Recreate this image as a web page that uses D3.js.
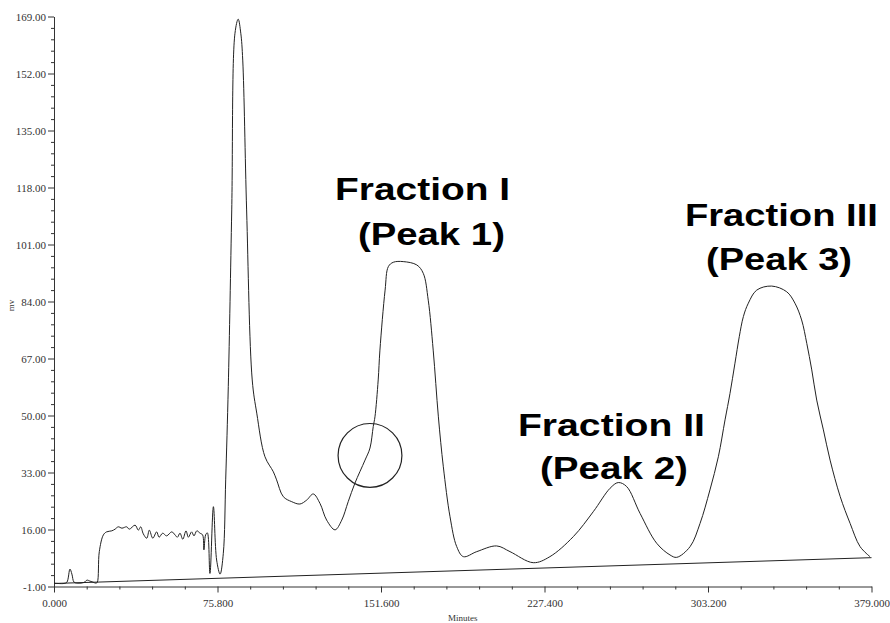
<!DOCTYPE html>
<html>
<head>
<meta charset="utf-8">
<script src="https://cdn.jsdelivr.net/npm/d3@7"></script>
<style>
  html, body { margin: 0; padding: 0; background: #fff; }
  svg { display: block; }
</style>
</head>
<body>
<svg id="chart" width="890" height="623"></svg>
<script>
// ---- Data ----
const timeMinutes = [0,4.6,6.0,7.4,8.3,9.3,11.1,13.9,15.3,16.7,18.1,19.5,20.1,21.0,22.9,24.4,26.8,28.3,29.8,31.5,33.7,34.9,37.6,39.1,40.2,41.4,43.0,44.2,45.8,47.6,48.7,50.4,52.2,54.6,56.1,57.2,58.4,59.7,61.2,62.3,63.8,64.9,66.2,67.7,68.9,69.5,70.3,71.1,72.3,73.9,75.4,77.0,78.5,79.6,80.8,82.4,83.9,85.4,86.6,87.5,89.3,91.9,94.0,97.8,101.7,103.2,106.3,110.2,114.0,117.2,120.2,123.3,126.4,130.3,133.4,136.4,139.5,144.2,146.5,148.0,148.8,150.3,151.1,153.5,155.0,157.3,161.9,168.2,171.2,173.5,175.8,178.2,180.5,183.6,186.7,189.8,196.0,205.2,211.4,222.2,229.9,240.8,250.0,257.8,261.6,265.5,271.7,279.4,285.6,288.7,294.9,299.5,304.1,308.0,311.1,313.4,315.7,317.7,319.6,321.9,325.8,332.7,339.7,343.5,346.6,349.0,351.3,353.6,356.7,359.8,364.5,369.1,373.7,378.3];
const signalMv = [0.0,-0.1,0.3,4.2,2.7,0.3,0.0,0.2,0.9,0.6,0.3,0.0,0.3,9.4,14.4,15.3,15.6,16.1,16.8,16.4,16.8,16.1,17.3,15.8,16.8,14.7,13.4,15.8,13.4,15.3,13.7,14.9,14.1,15.3,14.4,13.7,14.9,13.1,15.6,13.7,15.3,14.1,15.6,14.9,14.4,9.9,14.4,15.0,2.9,22.8,6.9,2.7,8.9,30.8,58.6,111.3,164.0,168.2,164.0,156.0,111.3,60.6,50.7,37.7,33.2,30.8,25.8,24.3,23.6,24.8,26.6,23.8,18.8,15.9,18.8,24.3,29.8,36.7,40.3,46.7,49.6,60.6,69.5,87.4,94.4,95.7,95.9,94.9,92.4,84.4,69.5,49.6,34.7,19.8,10.9,7.9,9.4,11.1,9.4,6.1,7.9,13.9,21.3,28.3,30.0,28.8,20.8,11.9,8.4,7.7,10.9,17.8,27.8,37.7,48.7,56.6,65.6,73.5,79.5,83.5,87.4,88.6,86.9,83.5,78.5,71.5,63.6,54.6,45.7,36.7,25.8,17.8,10.9,7.9];
const baselineTime = [0, 379];
const baselineMv = [-0.1, 7.6];
const yTickValues = [-1, 16, 33, 50, 67, 84, 101, 118, 135, 152, 169];
const xTickValues = [0, 75.8, 151.6, 227.4, 303.2, 379];
const labelTexts = ["Fraction I", "(Peak 1)", "Fraction II", "(Peak 2)", "Fraction III", "(Peak 3)"];
const labelTime = [130.3, 140.9, 215.1, 225.3, 292.5, 302.3];
const labelMv = [114.3, 100.8, 43.9, 31.1, 106.5, 93.4];
const circleCenter = [146.5, 38.1];
const circleRadiusMinutes = 14.8;

// ---- Layout ----
const W = 890, H = 623;
const margin = { left: 54, right: 18.5, top: 16.5, bottom: 36.5 };
const svg = d3.select("#chart");

const x = d3.scaleLinear().domain([0, 379]).range([margin.left, W - margin.right]);
const y = d3.scaleLinear().domain([-1, 169]).range([H - margin.bottom, margin.top]);

const tickFont = "'Liberation Serif', 'DejaVu Serif', serif";

// minor ticks
const yMinor = d3.range(-1, 169.001, 3.4).filter(v => !yTickValues.some(t => Math.abs(t - v) < 1e-6));
const xMinor = d3.range(0, 379.001, 15.16).filter(v => !xTickValues.some(t => Math.abs(t - v) < 1e-6));

// Y axis
const yAxis = svg.append("g")
  .attr("transform", `translate(${margin.left},0)`)
  .call(d3.axisLeft(y).tickValues(yTickValues).tickSize(6).tickSizeOuter(0)
    .tickFormat(d => (d < 0 ? "-" : "") + Math.abs(d).toFixed(2)));
svg.append("g")
  .attr("transform", `translate(${margin.left},0)`)
  .call(d3.axisLeft(y).tickValues(yMinor).tickSize(3).tickSizeOuter(0).tickFormat(""))
  .select(".domain").remove();

// X axis
const xAxis = svg.append("g")
  .attr("transform", `translate(0,${H - margin.bottom})`)
  .call(d3.axisBottom(x).tickValues(xTickValues).tickSize(6).tickSizeOuter(0)
    .tickFormat(d => d.toFixed(3)));
svg.append("g")
  .attr("transform", `translate(0,${H - margin.bottom})`)
  .call(d3.axisBottom(x).tickValues(xMinor).tickSize(3).tickSizeOuter(0).tickFormat(""))
  .select(".domain").remove();

svg.selectAll(".tick line").attr("stroke", "#333");
svg.selectAll(".domain").attr("stroke", "#333");
yAxis.attr("font-family", tickFont);
xAxis.attr("font-family", tickFont);
yAxis.selectAll("text").attr("font-size", 11).attr("fill", "#333").attr("x", -8);
xAxis.selectAll("text").attr("font-size", 11).attr("fill", "#333").attr("dy", "1.05em");

// axis titles
svg.append("text")
  .attr("x", (x(0) + x(379)) / 2 + 0)
  .attr("y", H - 2)
  .attr("text-anchor", "middle")
  .attr("font-family", tickFont).attr("font-size", 9).attr("fill", "#333")
  .text("Minutes");
svg.append("text")
  .attr("transform", `translate(14,${(y(-1) + y(169)) / 2 + 4}) rotate(-90)`)
  .attr("text-anchor", "middle")
  .attr("font-family", tickFont).attr("font-size", 9).attr("fill", "#333")
  .text("mv");

// baseline
svg.append("line")
  .attr("x1", x(baselineTime[0])).attr("y1", y(baselineMv[0]))
  .attr("x2", x(baselineTime[1])).attr("y2", y(baselineMv[1]))
  .attr("stroke", "#222").attr("stroke-width", 1);

// trace
const pts = timeMinutes.map((t, i) => [t, signalMv[i]]);
svg.append("path")
  .datum(pts)
  .attr("fill", "none")
  .attr("stroke", "#222")
  .attr("stroke-width", 1)
  .attr("d", d3.line().x(d => x(d[0])).y(d => y(d[1])).curve(d3.curveCatmullRom.alpha(0.5)));

// circle highlight
svg.append("circle")
  .attr("cx", x(circleCenter[0])).attr("cy", y(circleCenter[1]))
  .attr("r", x(circleRadiusMinutes) - x(0))
  .attr("fill", "none").attr("stroke", "#222").attr("stroke-width", 1.2);

// annotations
const labelWidths = [175, 147, 187, 148, 193, 146];
labelTexts.forEach((t, i) => {
  svg.append("text")
    .attr("x", x(labelTime[i])).attr("y", y(labelMv[i]))
    .attr("font-family", "'Liberation Sans', Arial, sans-serif")
    .attr("font-weight", "bold")
    .attr("font-size", 32)
    .attr("textLength", labelWidths[i])
    .attr("lengthAdjust", "spacingAndGlyphs")
    .attr("fill", "#000")
    .text(t);
});
</script>
</body>
</html>
